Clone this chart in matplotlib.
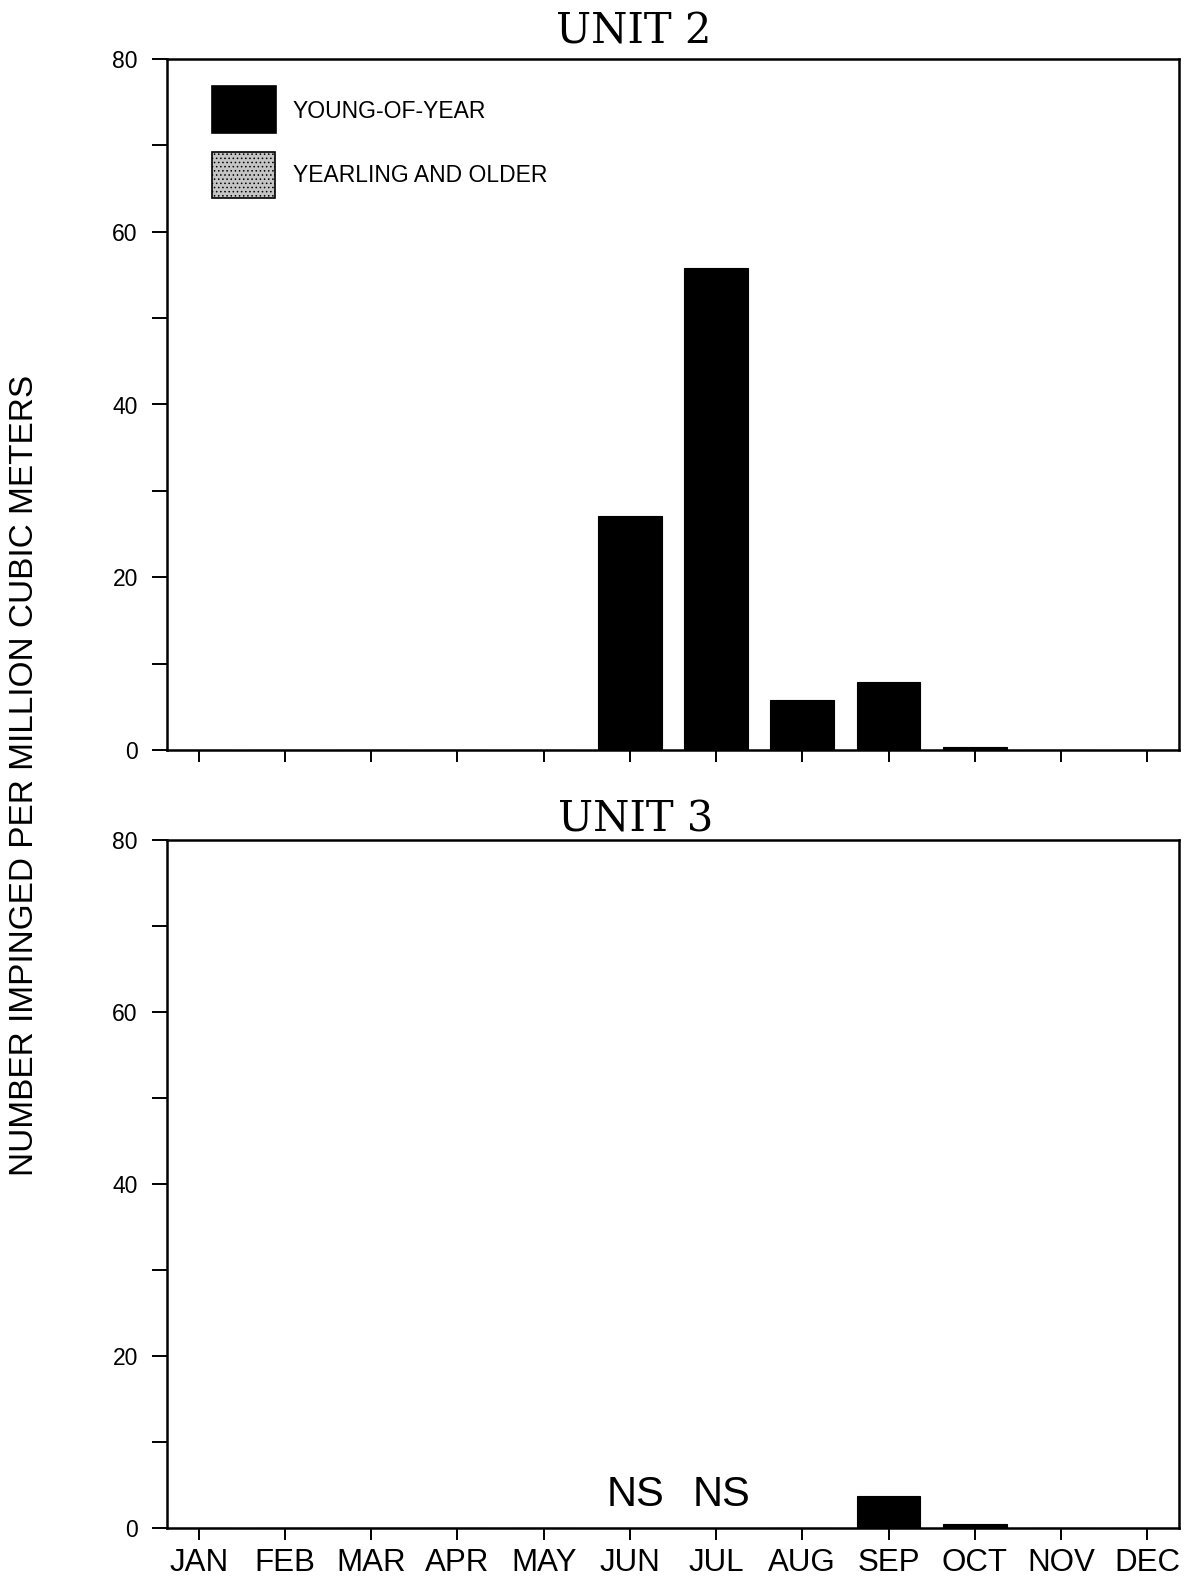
import numpy as np
import matplotlib
matplotlib.use("Agg")
import matplotlib.pyplot as plt
from matplotlib.patches import Rectangle

# ---- data -------------------------------------------------------------
months = ["JAN", "FEB", "MAR", "APR", "MAY", "JUN",
          "JUL", "AUG", "SEP", "OCT", "NOV", "DEC"]

# Unit 2 (number impinged per million cubic meters)
unit2_yoy = [0, 0, 0, 0, 0, 27.1, 55.8, 5.8, 7.9, 0.4, 0, 0]
unit2_older = [0, 0, 0, 0, 0, 0, 0, 0, 0, 0, 0, 0]

# Unit 3 (June and July not sampled)
unit3_yoy = [0, 0, 0, 0, 0, np.nan, np.nan, 0, 3.7, 0.5, 0, 0]
unit3_older = [0, 0, 0, 0, 0, np.nan, np.nan, 0, 0, 0, 0, 0]
unit3_not_sampled = ["JUN", "JUL"]

series_labels = ["YOUNG-OF-YEAR", "YEARLING AND OLDER"]
panel_titles = ["UNIT 2", "UNIT 3"]
y_label = "NUMBER IMPINGED PER MILLION CUBIC METERS"

# ---- styling ----------------------------------------------------------
W, H = 1184, 1581
plt.rcParams["font.family"] = ["Liberation Sans", "DejaVu Sans"]
plt.rcParams["hatch.linewidth"] = 0.6
plt.rcParams["hatch.color"] = "black"

fig = plt.figure(figsize=(W / 100, H / 100), dpi=100)


def fig_box(left, top, right, bottom):
    """Pixel box (from top-left) -> figure fraction rect."""
    return [left / W, 1 - bottom / H, (right - left) / W, (bottom - top) / H]


ax_top = fig.add_axes(fig_box(167, 59, 1179, 750))
ax_bot = fig.add_axes(fig_box(167, 840, 1179, 1528))

x = np.arange(len(months))
bar_w = 0.74


def draw_panel(ax, yoy, older, show_labels):
    yoy = np.asarray(yoy, dtype=float)
    older = np.asarray(older, dtype=float)
    ax.bar(x, yoy, width=bar_w, color="black", edgecolor="black",
           linewidth=0.8, zorder=2)
    ax.bar(x, older, width=bar_w, bottom=yoy, color="#c4c4c4",
           edgecolor="black", hatch="....", linewidth=0.0, zorder=2)
    ax.set_xlim(-0.37, 11.37)
    ax.set_ylim(0, 80)
    ax.set_yticks([0, 20, 40, 60, 80])
    ax.set_yticks([10, 30, 50, 70], minor=True)
    ax.set_xticks(x)
    ax.set_xticklabels(months if show_labels else [])
    ax.tick_params(axis="y", which="both", direction="out", length=11,
                   width=1.4, labelsize=16.5, pad=10)
    ax.tick_params(axis="x", direction="out", length=8.5, width=1.4,
                   labelsize=22.5, pad=6)
    for s in ax.spines.values():
        s.set_linewidth(1.8)


draw_panel(ax_top, unit2_yoy, unit2_older, show_labels=False)
draw_panel(ax_bot, unit3_yoy, unit3_older, show_labels=True)

# "NS" markers for months without samples
for m in unit3_not_sampled:
    ax_bot.text(months.index(m) + 0.06, 2.5, "NS", ha="center",
                va="baseline", fontsize=30)

# panel titles
fig.text(634 / W, 1 - 44 / H, panel_titles[0], ha="center", va="baseline",
         family="DejaVu Serif", fontsize=30)
fig.text(636 / W, 1 - 832 / H, panel_titles[1], ha="center", va="baseline",
         family="DejaVu Serif", fontsize=30)

# shared y-axis label
fig.text(25 / W, 1 - 775 / H, y_label, rotation=90, ha="center",
         va="center", fontsize=24)

# legend drawn as boxes with labels in the upper panel
def px_to_ax(px, py):
    return ((px - 167) / (1179 - 167), (750 - py) / (750 - 59))

x0, y0 = px_to_ax(212, 133)
x1, y1 = px_to_ax(276, 86)
ax_top.add_patch(Rectangle((x0, y0), x1 - x0, y1 - y0,
                           transform=ax_top.transAxes, facecolor="black",
                           edgecolor="black", linewidth=1.2, zorder=3))
x0, y0 = px_to_ax(212, 198)
x1, y1 = px_to_ax(275, 152)
ax_top.add_patch(Rectangle((x0, y0), x1 - x0, y1 - y0,
                           transform=ax_top.transAxes, facecolor="#c4c4c4",
                           edgecolor="black", hatch="....", linewidth=1.2,
                           zorder=3))
tx, ty = px_to_ax(293, 112)
ax_top.text(tx, ty, series_labels[0], transform=ax_top.transAxes,
            ha="left", va="center", fontsize=16.5)
tx, ty = px_to_ax(293, 176)
ax_top.text(tx, ty, series_labels[1], transform=ax_top.transAxes,
            ha="left", va="center", fontsize=16.5)

fig.savefig("out.png", dpi=100)
